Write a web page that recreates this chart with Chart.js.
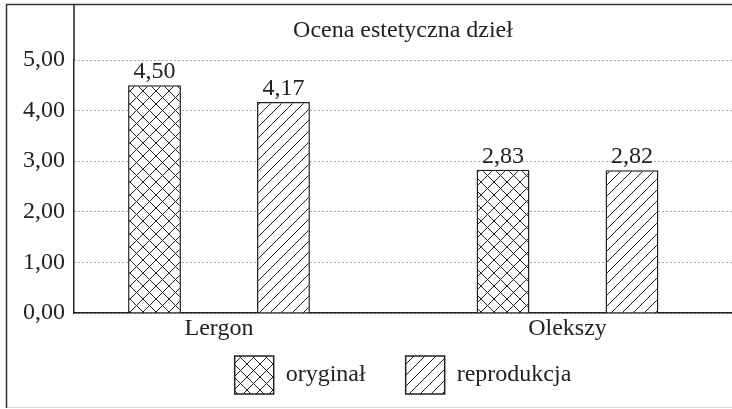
<!DOCTYPE html>
<html>
<head>
<meta charset="utf-8">
<script src="https://cdn.jsdelivr.net/npm/chart.js@4.4.1/dist/chart.umd.min.js"></script>
<style>
  html, body { margin: 0; padding: 0; background: #fff; }
</style>
</head>
<body>
<canvas id="chart" width="732" height="409"></canvas>
<script>
// Data
const categories = ['Lergon', 'Olekszy'];
const seriesNames = ['oryginał', 'reprodukcja'];
const originalValues = [4.50, 2.83];
const reproductionValues = [4.17, 2.82];
const yTicks = [0, 1, 2, 3, 4, 5];
const chartTitle = 'Ocena estetyczna dzieł';

const FONT = '"Liberation Serif", serif';
const FONT_SIZE = 24;
const INK = '#222';

const canvas = document.getElementById('chart');
const ctx = canvas.getContext('2d');

// Hatch fills: cross-hatch for originals, forward slashes for reproductions
function makePattern(kind) {
  const size = kind === 'cross' ? 13 : 11;
  const tile = document.createElement('canvas');
  tile.width = size;
  tile.height = size;
  const g = tile.getContext('2d');
  g.fillStyle = '#fff';
  g.fillRect(0, 0, size, size);
  g.strokeStyle = INK;
  g.lineWidth = 1;
  g.beginPath();
  g.moveTo(-1, size + 1); g.lineTo(size + 1, -1);
  g.moveTo(-1, 1); g.lineTo(1, -1);
  g.moveTo(size - 1, size + 1); g.lineTo(size + 1, size - 1);
  if (kind === 'cross') {
    g.moveTo(-1, -1); g.lineTo(size + 1, size + 1);
    g.moveTo(size - 1, -1); g.lineTo(size + 1, 1);
    g.moveTo(-1, size - 1); g.lineTo(1, size + 1);
  }
  g.stroke();
  return ctx.createPattern(tile, 'repeat');
}

const crossFill = makePattern('cross');
const slashFill = makePattern('slash');

function fmt(v) {
  return v.toFixed(2).replace('.', ',');
}

// Outer frame and the y axis line running up past the title
const frame = {
  id: 'frame',
  beforeDraw(chart) {
    const c = chart.ctx;
    c.save();
    c.fillStyle = '#fff';
    c.fillRect(0, 0, chart.width, chart.height);
    c.strokeStyle = '#d8d8d8';
    c.lineWidth = 1;
    c.beginPath();
    c.moveTo(6, 407.5); c.lineTo(chart.width, 407.5);
    c.stroke();
    c.strokeStyle = '#333';
    c.lineWidth = 1.5;
    c.beginPath();
    c.moveTo(6.5, 408); c.lineTo(6.5, 4.5); c.lineTo(chart.width, 4.5);
    c.stroke();
    c.restore();
  },
  afterDraw(chart) {
    const c = chart.ctx;
    const left = chart.chartArea.left;
    c.save();
    c.strokeStyle = INK;
    c.lineWidth = 1.5;
    c.beginPath();
    c.moveTo(left, 4);
    c.lineTo(left, chart.chartArea.top);
    c.stroke();
    c.restore();
  }
};

// Value labels above each bar
const valueLabels = {
  id: 'valueLabels',
  afterDatasetsDraw(chart) {
    const c = chart.ctx;
    c.save();
    c.font = FONT_SIZE + 'px ' + FONT;
    c.fillStyle = INK;
    c.textAlign = 'center';
    c.textBaseline = 'alphabetic';
    chart.data.datasets.forEach((ds, di) => {
      chart.getDatasetMeta(di).data.forEach((bar, i) => {
        c.fillText(fmt(ds.data[i].y), bar.x, bar.y - 7);
      });
    });
    c.restore();
  }
};

new Chart(ctx, {
  type: 'bar',
  data: {
    datasets: [
      {
        label: seriesNames[0],
        data: originalValues.map((v, i) => ({ x: i, y: v })),
        backgroundColor: crossFill,
        borderColor: INK,
        borderWidth: 1.5,
        categoryPercentage: 0.74,
        barPercentage: 0.41
      },
      {
        label: seriesNames[1],
        data: reproductionValues.map((v, i) => ({ x: i, y: v })),
        backgroundColor: slashFill,
        borderColor: INK,
        borderWidth: 1.5,
        categoryPercentage: 0.74,
        barPercentage: 0.41
      }
    ]
  },
  options: {
    responsive: false,
    animation: false,
    events: [],
    layout: { padding: { top: 0, left: 0, right: 0, bottom: 5 } },
    font: { family: FONT, size: FONT_SIZE },
    color: INK,
    scales: {
      x: {
        type: 'linear',
        offset: false,
        min: -0.416,
        max: 1.472,
        grid: { display: false, drawTicks: false },
        border: { color: INK, width: 1.5 },
        afterBuildTicks: (s) => { s.ticks = categories.map((c, i) => ({ value: i })); },
        afterFit: (s) => { s.height = 3; },
        ticks: {
          // mirrored so the labels are not clipped to the thin axis box
          mirror: true,
          padding: -30,
          autoSkip: false,
          maxRotation: 0,
          color: INK,
          font: { family: FONT, size: FONT_SIZE },
          callback: (v) => categories[v]
        }
      },
      y: {
        min: 0,
        max: 5,
        afterBuildTicks: (s) => { s.ticks = yTicks.map(v => ({ value: v })); },
        afterFit: (s) => { s.width = 74; },
        grid: { color: '#555', lineWidth: 1, drawTicks: false },
        border: { color: INK, width: 1.5, dash: [1, 3] },
        ticks: {
          padding: 9,
          color: INK,
          font: { family: FONT, size: FONT_SIZE },
          callback: (v) => fmt(v)
        }
      }
    },
    plugins: {
      title: {
        display: true,
        text: chartTitle,
        fullSize: false,
        color: INK,
        font: { family: FONT, size: FONT_SIZE, weight: 'normal' },
        padding: { top: 16, bottom: 15.2 }
      },
      legend: {
        position: 'bottom',
        fullSize: false,
        maxHeight: 93,
        labels: {
          boxWidth: 39,
          boxHeight: 38,
          padding: 40,
          color: INK,
          font: { family: FONT, size: FONT_SIZE }
        }
      },
      tooltip: { enabled: false }
    }
  },
  plugins: [frame, valueLabels]
});
</script>
</body>
</html>
